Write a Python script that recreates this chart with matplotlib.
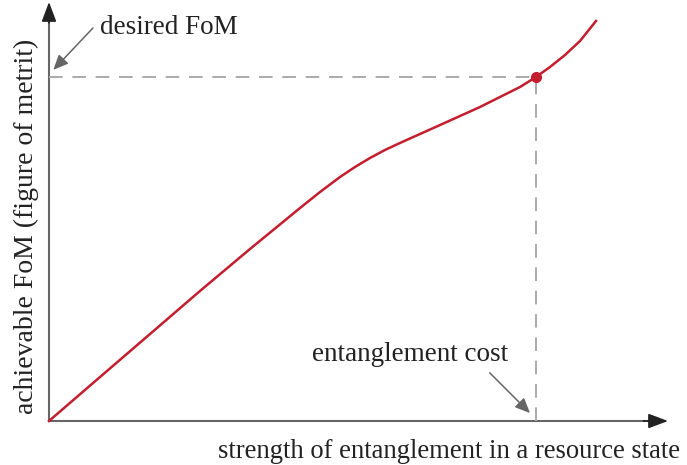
import numpy as np
import matplotlib
matplotlib.use('Agg')
import matplotlib.pyplot as plt

plt.rcParams['font.family'] = ['Liberation Serif', 'DejaVu Serif']

# curve (axis units 0..100 along each arrow)
strength = [0, 8.24, 16.32, 24.39, 32.47, 40.55, 43.78, 47.01, 49.43, 51.86, 54.28, 56.70,
            59.94, 63.17, 66.40, 69.63, 72.86, 76.09, 78.68, 80.94, 83.36, 85.78, 88.37]
fom = [0, 10.5, 20.76, 31.03, 41.05, 50.83, 54.65, 58.23, 60.62, 62.77, 64.68, 66.35,
       68.50, 70.64, 72.79, 74.94, 77.33, 79.71, 82.10, 84.49, 87.35, 90.69, 95.47]

cost_x = 78.68
desired_y = 82.10

red = '#c41e2e'
gray_dash = '#aaaaaa'
axis_col = '#666666'
txt_col = '#222222'

fig = plt.figure(figsize=(6.87, 4.65), dpi=100)
ax = fig.add_axes([49/687, 1-421/465, 619/687, 419/465])
ax.set_xlim(0, 100)
ax.set_ylim(0, 100)
ax.axis('off')

# axis lines
ax.plot([0, 97], [0, 0], color=axis_col, lw=1.5, solid_capstyle='butt', clip_on=False)
ax.plot([0, 0], [0, 96], color=axis_col, lw=1.5, solid_capstyle='butt', clip_on=False)
# arrow heads
head = dict(arrowstyle='-|>,head_length=1.2,head_width=0.45', color='#222222',
            lw=1.2, shrinkA=0, shrinkB=0)
ax.annotate('', xy=(100, 0), xytext=(96, 0), arrowprops=head, annotation_clip=False)
ax.annotate('', xy=(0, 100), xytext=(0, 95), arrowprops=head, annotation_clip=False)

# dashed guides
ax.plot([0, cost_x], [desired_y, desired_y], color=gray_dash, lw=1.4, dashes=(7, 5))
ax.plot([cost_x, cost_x], [0, desired_y], color=gray_dash, lw=1.4, dashes=(7, 5))

# curve and point
ax.plot(strength, fom, color=red, lw=1.8, clip_on=False, solid_joinstyle='round')
ax.plot([cost_x], [desired_y], 'o', color=red, ms=7)

# annotations
small = dict(arrowstyle='-|>,head_length=0.9,head_width=0.4', color=axis_col,
             lw=1.1, shrinkA=0, shrinkB=0)
ax.text(8.2, 94.0, 'desired FoM', fontsize=19.5, ha='left', va='center', color=txt_col)
ax.annotate('', xy=(0.7, 83.8), xytext=(7.1, 93.8), arrowprops=small)
ax.text(58.3, 15.8, 'entanglement cost', fontsize=19.5, ha='center', va='center', color=txt_col)
ax.annotate('', xy=(77.7, 1.9), xytext=(71.2, 11.5), arrowprops=small)

fig.text(0.039, 0.514, 'achievable FoM (figure of metrit)', fontsize=20, rotation=90,
         ha='center', va='center', color=txt_col)
fig.text(0.653, 0.029, 'strength of entanglement in a resource state', fontsize=19.2,
         ha='center', va='center', color=txt_col)

fig.savefig('out.png', dpi=100)
